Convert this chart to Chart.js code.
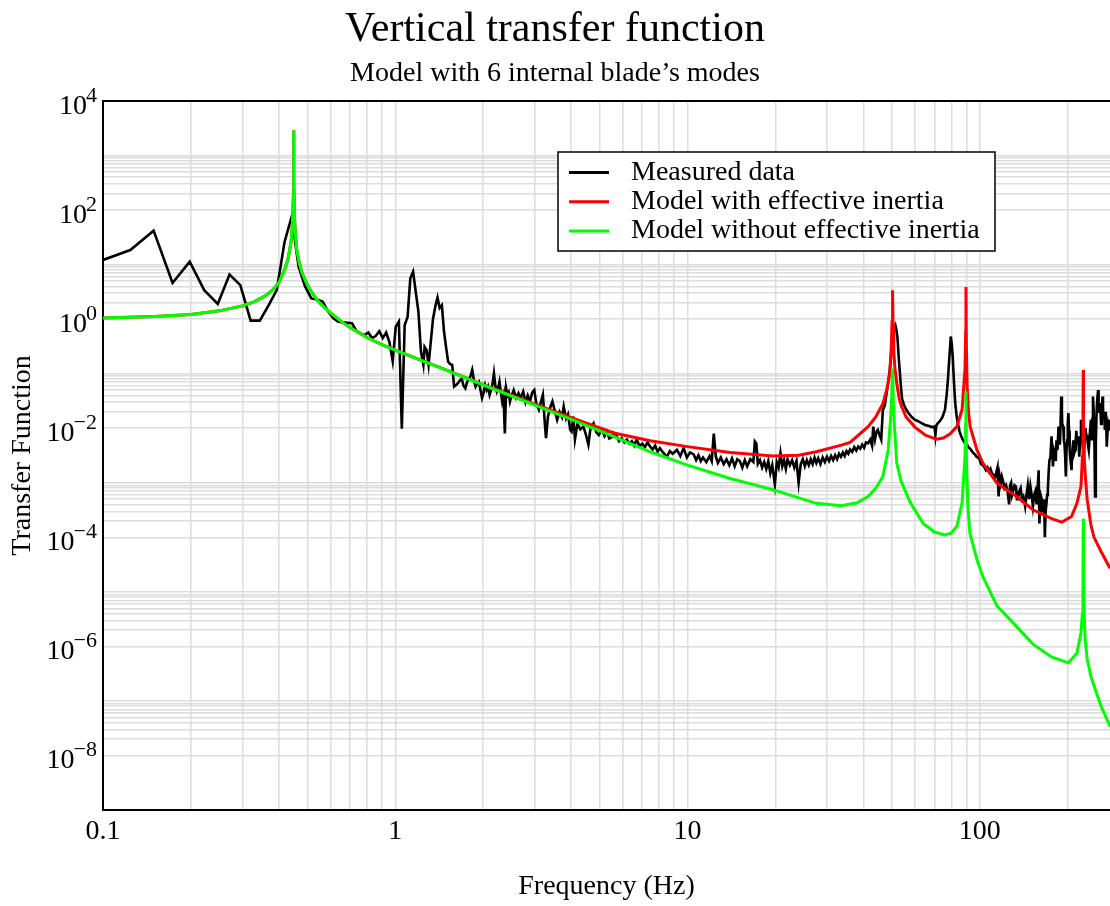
<!DOCTYPE html>
<html><head><meta charset="utf-8">
<script src="https://cdn.jsdelivr.net/npm/chart.js@4.4.1/dist/chart.umd.min.js"></script>
<style>html,body{margin:0;padding:0;background:#fff;}canvas{display:block;}</style>
</head><body>
<canvas id="c" width="1110" height="906"></canvas>
<script>
// ---------- data (frequency Hz, transfer function) ----------
const seriesNames = ['Measured data', 'Model with effective inertia', 'Model without effective inertia'];
const xTickLabels = [0.1, 1, 10, 100];
const yTickExponents = [4, 2, 0, -2, -4, -6, -8];

const measuredData = [
[0.100,12.2],[0.124,18.5],[0.149,41.9],[0.173,4.6],[0.198,11.3],[0.222,3.4],[0.247,1.9],[0.271,6.6],[0.295,4.2],[0.320,0.94],
[0.344,0.94],[0.369,1.8],[0.393,3.4],[0.418,26],[0.442,75],[0.467,9.2],[0.491,4.0],[0.516,2.4],[0.540,2.3],[0.564,2.1],
[0.589,1.4],[0.613,1.05],[0.638,0.9],[0.662,0.88],[0.686,0.86],[0.711,0.84],[0.735,0.62],[0.760,0.55],[0.784,0.51],[0.809,0.57],
[0.833,0.45],[0.857,0.49],[0.882,0.60],[0.906,0.45],[0.931,0.57],[0.955,0.38],[0.980,0.17],[1.004,0.73],[1.029,0.9],[1.053,0.0098],
[1.077,0.78],[1.102,1.1],[1.126,5.6],[1.151,7.4],[1.175,3.2],[1.200,1.37],[1.224,0.26],[1.248,0.145],[1.260,0.31],[1.280,0.27],
[1.300,0.145],[1.346,1.0],[1.371,1.7],[1.395,2.5],[1.419,1.6],[1.444,1.8],[1.468,0.6],[1.493,0.3],[1.517,0.166],[1.541,0.15],
[1.566,0.145],[1.590,0.058],[1.615,0.062],[1.639,0.067],[1.663,0.075],[1.688,0.082],[1.712,0.06],[1.737,0.054],[1.761,0.07],[1.786,0.082],
[1.810,0.09],[1.834,0.117],[1.859,0.075],[1.883,0.058],[1.908,0.066],[1.932,0.071],[1.957,0.05],[1.981,0.036],[2.005,0.045],[2.030,0.062],
[2.054,0.05],[2.078,0.058],[2.103,0.041],[2.127,0.05],[2.152,0.065],[2.176,0.102],[2.200,0.06],[2.225,0.047],[2.249,0.055],[2.273,0.071],
[2.298,0.045],[2.322,0.031],[2.347,0.04],[2.371,0.008],[2.395,0.054],[2.420,0.04],[2.444,0.045],[2.469,0.031],[2.493,0.038],[2.542,0.05],
[2.590,0.036],[2.640,0.044],[2.690,0.036],[2.740,0.047],[2.790,0.03],[2.840,0.04],[2.890,0.031],[2.940,0.045],[2.990,0.05],[3.040,0.028],
[3.100,0.0218],[3.150,0.03],[3.200,0.041],[3.250,0.012],[3.280,0.0066],[3.330,0.0164],[3.390,0.024],[3.450,0.031],[3.520,0.02],[3.580,0.0142],
[3.650,0.02],[3.720,0.016],[3.770,0.025],[3.840,0.015],[3.900,0.018],[3.970,0.0093],[4.010,0.0087],[4.070,0.0164],[4.120,0.0062],[4.200,0.012],
[4.300,0.0095],[4.400,0.0107],[4.480,0.008],[4.580,0.005],[4.650,0.0095],[4.770,0.0123],[4.870,0.0085],[4.970,0.0075],[5.100,0.0095],[5.200,0.0072],
[5.300,0.0087],[5.400,0.0065],[5.500,0.0068],[5.600,0.0082],[5.700,0.0075],[5.830,0.0058],[5.950,0.0066],[6.080,0.0055],[6.200,0.0062],[6.330,0.0052],
[6.450,0.0058],[6.570,0.0048],[6.700,0.0062],[6.850,0.0047],[7.000,0.0052],[7.150,0.0045],[7.300,0.0055],[7.450,0.0046],[7.600,0.0041],[7.750,0.0048],
[7.900,0.0037],[8.050,0.0043],[8.250,0.0036],[8.500,0.003],[8.700,0.0038],[8.900,0.0034],[9.200,0.004],[9.450,0.0031],[9.700,0.0043],[9.950,0.0029],
[10.20,0.0036],[10.50,0.0033],[10.70,0.0026],[10.90,0.0032],[11.10,0.0025],[11.30,0.0029],[11.60,0.0024],[11.90,0.0031],[12.10,0.0025],[12.30,0.008],
[12.50,0.003],[12.70,0.0023],[13.00,0.0029],[13.30,0.0022],[13.60,0.0027],[13.90,0.0021],[14.20,0.0028],[14.50,0.002],[14.80,0.0027],[15.10,0.0025],
[15.40,0.0019],[15.70,0.0026],[16.00,0.002],[16.40,0.0027],[16.80,0.0024],[17.00,0.0057],[17.20,0.0052],[17.40,0.0022],[17.70,0.0026],[18.00,0.0019],
[18.30,0.0024],[18.60,0.0018],[18.90,0.0025],[19.20,0.0015],[19.50,0.0021],[19.90,0.00093],[20.20,0.0024],[20.50,0.0019],[20.80,0.0035],[21.10,0.002],
[21.40,0.0026],[21.70,0.0018],[22.00,0.0027],[22.40,0.0021],[22.80,0.0026],[23.20,0.0019],[23.60,0.0025],[24.00,0.001],[24.40,0.0022],[24.80,0.0027],
[25.20,0.002],[25.60,0.0026],[26.00,0.0021],[26.40,0.0027],[26.80,0.0022],[27.20,0.0029],[27.60,0.0023],[28.00,0.0028],[28.50,0.0022],[29.00,0.0029],
[29.50,0.0024],[30.00,0.003],[30.50,0.0025],[31.00,0.0031],[31.50,0.0026],[32.00,0.0032],[32.50,0.0027],[33.00,0.0034],[33.50,0.003],[34.00,0.0036],
[34.50,0.0031],[35.00,0.0038],[35.50,0.0034],[36.00,0.0041],[36.60,0.0037],[37.20,0.0045],[37.80,0.0039],[38.40,0.0046],[39.00,0.0042],[39.60,0.005],
[40.20,0.0044],[40.80,0.0055],[41.50,0.0053],[42.20,0.0062],[42.80,0.0048],[43.20,0.0107],[43.80,0.0062],[44.30,0.0085],[44.80,0.0093],[45.40,0.0075],
[46.00,0.0062],[46.60,0.0217],[47.30,0.026],[48.00,0.044],[48.60,0.07],[49.20,0.117],[49.80,0.25],[50.40,0.48],[51.00,0.72],[51.40,0.78],
[51.80,0.65],[52.30,0.45],[52.80,0.2],[53.20,0.117],[53.70,0.06],[54.20,0.035],[55.00,0.027],[56.00,0.022],[57.00,0.019],[58.50,0.016],
[60.00,0.0143],[61.50,0.0135],[63.00,0.0125],[65.00,0.0115],[67.00,0.011],[68.50,0.0105],[70.00,0.0107],[70.50,0.0075],[71.00,0.0112],[72.00,0.0125],
[73.00,0.0135],[74.50,0.016],[76.00,0.0217],[77.00,0.04],[77.80,0.077],[78.70,0.2],[79.60,0.48],[80.20,0.35],[80.80,0.206],[81.60,0.07],
[82.40,0.029],[83.40,0.016],[84.40,0.0115],[85.40,0.0085],[86.40,0.0071],[87.50,0.0062],[88.60,0.0055],[89.60,0.0052],[90.60,0.0049],[91.70,0.0044],
[92.80,0.0042],[94.00,0.0038],[95.10,0.0035],[96.30,0.0033],[97.50,0.003],[98.60,0.0029],[99.80,0.0027],[101.0,0.0022],[102.5,0.0021],[103.8,0.0019],
[105.0,0.0017],[106.3,0.0019],[107.5,0.0016],[108.8,0.0018],[110.0,0.0015],[111.3,0.0014],[112.5,0.0012],[113.8,0.0015],[115.0,0.0019],[116.0,0.00056],
[117.0,0.0013],[118.0,0.001],[119.0,0.0013],[120.0,0.0011],[121.5,0.0008],[123.0,0.0009],[124.5,0.0007],[126.0,0.0004],[127.0,0.0009],[128.0,0.001],
[129.0,0.0006],[130.0,0.0007],[131.5,0.0009],[133.0,0.00086],[134.0,0.0005],[135.0,0.0005],[136.5,0.0007],[138.0,0.0008],[139.5,0.0005],[141.0,0.00056],
[143.0,0.00037],[144.5,0.0006],[146.0,0.0009],[147.5,0.0005],[149.0,0.00086],[150.5,0.0006],[152.0,0.00037],[153.5,0.0006],[155.0,0.0007],[156.5,0.0004],
[158.0,0.0009],[159.0,0.0017],[160.0,0.00018],[161.5,0.0006],[163.0,0.0005],[164.0,0.0003],[165.0,0.0003],[166.0,0.0005],[167.0,0.0001],[168.0,0.0003],
[169.0,0.0004],[170.0,0.0006],[171.0,0.00075],[172.0,0.0015],[173.0,0.0025],[174.5,0.003],[176.0,0.0071],[177.0,0.004],[178.0,0.002],[179.5,0.004],
[181.0,0.0035],[182.0,0.0025],[183.0,0.006],[184.5,0.004],[186.0,0.0107],[187.0,0.007],[188.0,0.005],[189.0,0.012],[190.0,0.038],[191.0,0.02],
[191.5,0.012],[193.0,0.0107],[194.0,0.006],[195.0,0.005],[196.0,0.003],[197.0,0.0013],[198.0,0.004],[199.0,0.006],[200.0,0.012],[201.0,0.019],
[202.0,0.009],[203.0,0.004],[204.5,0.0025],[206.0,0.0017],[207.5,0.004],[209.0,0.006],[210.5,0.0035],[212.0,0.004],[213.0,0.006],[214.0,0.009],
[215.5,0.005],[217.0,0.0071],[218.0,0.005],[219.0,0.003],[220.5,0.006],[222.0,0.0143],[223.0,0.008],[224.0,0.006],[225.5,0.0045],[227.0,0.0035],
[228.5,0.006],[230.0,0.01],[231.5,0.007],[233.0,0.0071],[234.5,0.005],[236.0,0.004],[238.0,0.008],[240.0,0.0143],[241.0,0.01],[242.0,0.006],
[243.0,0.015],[244.0,0.038],[245.0,0.025],[246.0,0.012],[247.0,0.004],[248.0,0.00056],[249.5,0.005],[251.0,0.02],[252.5,0.035],[254.0,0.05],
[255.0,0.03],[256.0,0.02],[257.0,0.025],[258.0,0.029],[259.0,0.02],[260.0,0.012],[261.5,0.02],[263.0,0.038],[264.0,0.025],[265.0,0.015],
[266.5,0.02],[268.0,0.0093],[269.0,0.015],[270.0,0.02],[271.0,0.01],[272.0,0.0046],[273.5,0.008],[275.0,0.011],[276.5,0.009],[278.0,0.013],[279.0,0.0143]
];

const modelWithInertia = [
[0.100,1.05],[0.150,1.12],[0.200,1.22],[0.250,1.42],[0.300,1.75],[0.330,2.1],[0.360,2.7],[0.380,3.4],[0.400,4.7],[0.420,8.5],
[0.430,13],[0.440,26],[0.445,55],[0.448,180],[0.449,2900],[0.450,350],[0.452,75],[0.455,38],[0.460,19],[0.470,10.5],
[0.480,7.0],[0.500,4.3],[0.520,3.0],[0.550,2.0],[0.600,1.3],[0.650,0.93],[0.700,0.70],[0.800,0.46],[0.900,0.34],[1.00,0.27],
[1.50,0.116],[2.00,0.063],[3.00,0.0275],[4.00,0.0157],[5.60,0.0082],[7.45,0.0059],[10.0,0.0046],[14.0,0.0036],[19.6,0.0031],[24.0,0.0032],
[27.6,0.0037],[33.6,0.0049],[36.0,0.0055],[41.5,0.0107],[44.0,0.016],[46.6,0.028],[48.0,0.05],[49.2,0.095],[49.8,0.3],[50.1,0.9],
[50.3,3.4],[50.5,0.8],[50.8,0.25],[51.3,0.12],[52.0,0.067],[53.0,0.035],[54.0,0.025],[56.0,0.016],[60.0,0.0105],[65.0,0.0075],
[71.0,0.0063],[75.0,0.0066],[79.0,0.0078],[83.5,0.0107],[87.0,0.022],[89.0,0.12],[89.5,0.6],[89.7,3.9],[90.0,0.3],[90.5,0.06],
[91.5,0.02],[92.7,0.0107],[97.8,0.004],[102.5,0.0023],[114.5,0.00098],[133.7,0.00056],[152,0.00032],[176,0.00022],[191,0.00019],[206,0.00024],
[215,0.00042],[222,0.00086],[224.5,0.003],[225.5,0.02],[226,0.117],[226.5,0.015],[228,0.0025],[230,0.0012],[233,0.0005],[240,0.00017],
[246,0.0001],[260,0.000055],[279,0.000027]
];

const modelWithoutInertia = [
[0.100,1.05],[0.150,1.12],[0.200,1.22],[0.250,1.42],[0.300,1.75],[0.330,2.1],[0.360,2.7],[0.380,3.4],[0.400,4.7],[0.420,8.5],
[0.430,13],[0.440,26],[0.445,55],[0.448,180],[0.449,2900],[0.450,350],[0.452,75],[0.455,38],[0.460,19],[0.470,10.5],
[0.480,7.0],[0.500,4.3],[0.520,3.0],[0.550,2.0],[0.600,1.3],[0.650,0.93],[0.700,0.70],[0.800,0.46],[0.900,0.34],[1.00,0.27],
[1.50,0.115],[2.00,0.062],[3.00,0.0265],[4.00,0.0145],[5.60,0.0070],[7.45,0.0037],[10.0,0.0021],[14.0,0.0012],[19.7,0.00074],[27.6,0.00042],
[33.6,0.00038],[38.0,0.00043],[41.5,0.00056],[44.0,0.00078],[46.6,0.0013],[48.6,0.004],[49.5,0.0143],[50.0,0.04],[50.3,0.126],[50.6,0.03],
[51.0,0.012],[51.5,0.0053],[52.0,0.0023],[53.7,0.0011],[57.9,0.00043],[64.0,0.00018],[70.0,0.000125],[76.0,0.00011],[80.0,0.00012],[83.5,0.00016],
[87.0,0.00043],[89.0,0.003],[89.5,0.012],[89.7,0.047],[90.0,0.003],[91.0,0.0004],[92.5,0.00012],[97.8,0.000039],[102.5,0.000019],[114.5,0.0000055],
[133.7,0.0000023],[152,0.0000011],[176,6.4e-7],[201,5.0e-7],[215,7.5e-7],[222,1.8e-6],[224.5,4e-6],[225.5,2e-5],[226,2.2e-4],[226.5,1.5e-5],
[228,3e-6],[229.5,1.3e-6],[233,6e-7],[240,2.8e-7],[260,8.0e-8],[279,3.4e-8]
];

const xMin = 0.1, xMax = 279, yMin = 1e-9, yMax = 1e4;

// ---------- helpers ----------
const FONT = "'Liberation Serif', 'Times New Roman', serif";
const toXY = arr => arr.map(p => ({x: p[0], y: p[1]}));

const xGrid = [];
for (let e = -1; e <= 2; e++) for (let j = 1; j <= 9; j++) {
  const v = +(j * Math.pow(10, e)).toPrecision(4);
  if (v <= xMax) xGrid.push(v);
}
const yGrid = [yMin];
for (const e of yTickExponents.slice().sort((a, b) => a - b)) {
  for (let j = 1; j <= 10; j++) {
    const v = +(j * Math.pow(10, e)).toPrecision(4);
    if (v <= yMax && !yGrid.includes(v)) yGrid.push(v);
  }
}
yGrid.sort((a, b) => a - b);

const frameTop = {
  id: 'frameTop',
  afterDraw(chart) {
    const {ctx, chartArea: a} = chart;
    ctx.save();
    ctx.strokeStyle = '#000'; ctx.lineWidth = 2;
    ctx.beginPath(); ctx.moveTo(a.left - 1, a.top); ctx.lineTo(a.right + 1, a.top); ctx.stroke();
    ctx.restore();
  }
};

const yPowerLabels = {
  id: 'yPowerLabels',
  afterDraw(chart) {
    const ys = chart.scales.y, ctx = chart.ctx;
    const right = chart.chartArea.left - 6;
    ctx.save();
    ctx.fillStyle = '#000';
    ctx.textBaseline = 'alphabetic';
    for (const e of yTickExponents) {
      const py = ys.getPixelForValue(Math.pow(10, e));
      const expStr = e < 0 ? '\u2212' + (-e) : String(e);
      ctx.font = '22px ' + FONT;
      const ew = ctx.measureText(expStr).width;
      ctx.textAlign = 'left';
      ctx.fillText(expStr, right - ew, py + 1);
      ctx.font = '28px ' + FONT;
      ctx.textAlign = 'right';
      ctx.fillText('10', right - ew + 1, py + 13);
    }
    ctx.restore();
  }
};

const boxLegend = {
  id: 'boxLegend',
  afterDatasetsDraw(chart) {
    const {ctx, chartArea: a} = chart;
    const left = a.left + 455, top = a.top + 51, w = 437, h = 99;
    ctx.save();
    ctx.fillStyle = '#fff';
    ctx.fillRect(left, top, w, h);
    ctx.strokeStyle = '#000'; ctx.lineWidth = 1.5;
    ctx.strokeRect(left, top, w, h);
    ctx.font = '28px ' + FONT;
    ctx.textBaseline = 'middle'; ctx.textAlign = 'left';
    chart.data.datasets.forEach((ds, i) => {
      const y = top + 20.5 + i * 29.3;
      ctx.strokeStyle = ds.borderColor; ctx.lineWidth = 3;
      ctx.beginPath(); ctx.moveTo(left + 11, y); ctx.lineTo(left + 51, y); ctx.stroke();
      ctx.fillStyle = '#000';
      ctx.fillText(ds.label, left + 73, y);
    });
    ctx.restore();
  }
};

new Chart(document.getElementById('c'), {
  type: 'scatter',
  data: {
    datasets: [
      {label: seriesNames[0], data: toXY(measuredData), borderColor: '#000000', borderWidth: 2.6, showLine: true, pointRadius: 0, tension: 0, order: 3},
      {label: seriesNames[1], data: toXY(modelWithInertia), borderColor: '#ff0000', borderWidth: 3, showLine: true, pointRadius: 0, tension: 0, order: 2},
      {label: seriesNames[2], data: toXY(modelWithoutInertia), borderColor: '#00ff00', borderWidth: 3, showLine: true, pointRadius: 0, tension: 0, order: 1}
    ]
  },
  options: {
    responsive: false, animation: false, devicePixelRatio: 1, events: [],
    layout: {padding: 0},
    plugins: {
      legend: {display: false}, tooltip: {enabled: false},
      title: {display: true, text: 'Vertical transfer function', color: '#000',
        font: {family: FONT, size: 42, weight: 'normal'}, padding: {top: 5, bottom: 0}},
      subtitle: {display: true, text: 'Model with 6 internal blade\u2019s modes', color: '#000',
        font: {family: FONT, size: 28, weight: 'normal'}, padding: {top: 1.4, bottom: 10.6}}
    },
    scales: {
      x: {
        type: 'logarithmic', min: xMin, max: xMax,
        afterBuildTicks: s => { s.ticks = xGrid.map(v => ({value: v})); },
        afterFit: s => { s.height = 96; },
        ticks: {autoSkip: false, maxRotation: 0, minRotation: 0, padding: 5, color: '#000',
          font: {family: FONT, size: 28},
          callback: v => { const m = xTickLabels.find(t => Math.abs(t - v) < 1e-9 * Math.max(1, t)); return m === undefined ? '' : String(m); }},
        grid: {color: '#dcdcdc', lineWidth: 1.5, drawTicks: false},
        border: {color: '#000', width: 2},
        title: {display: true, text: 'Frequency (Hz)', color: '#000', font: {family: FONT, size: 28}, padding: {top: 0, bottom: 3}}
      },
      y: {
        type: 'logarithmic', min: yMin, max: yMax,
        afterBuildTicks: s => { s.ticks = yGrid.map(v => ({value: v})); },
        afterFit: s => { s.width = 103; },
        ticks: {display: false, autoSkip: false},
        grid: {color: '#dcdcdc', lineWidth: 1.5, drawTicks: false},
        border: {color: '#000', width: 2},
        title: {display: true, text: 'Transfer Function', color: '#000', font: {family: FONT, size: 28}, padding: {top: 6, bottom: 0}}
      }
    }
  },
  plugins: [frameTop, yPowerLabels, boxLegend]
});
</script>
</body></html>
